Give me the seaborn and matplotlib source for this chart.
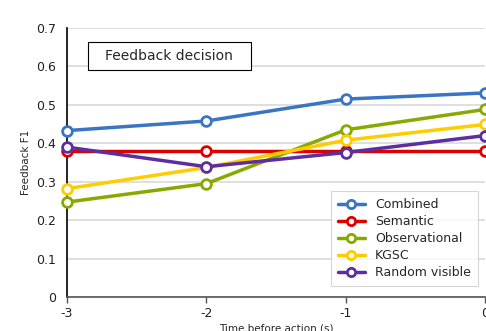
import numpy as np
import pandas as pd
import seaborn as sns
import matplotlib.pyplot as plt
from matplotlib.patches import Rectangle

times = [-3, -2, -1, 0]
combined = [0.433, 0.458, 0.515, 0.531]
semantic = [0.380, 0.380, 0.380, 0.380]
observational = [0.247, 0.295, 0.435, 0.488]
kgsc = [0.282, 0.337, 0.408, 0.449]
random_visible = [0.390, 0.339, 0.376, 0.420]

names = ['Combined', 'Semantic', 'Observational', 'KGSC', 'Random visible']
colors = ['#3a75c4', '#dd0000', '#88aa00', '#ffcc00', '#5c2ea0']
series = [combined, semantic, observational, kgsc, random_visible]

sns.set_style('white')
plt.rcParams['font.family'] = ['DejaVu Sans']

fig = plt.figure(figsize=(4.86, 3.31), dpi=100)
ax = fig.add_axes([67/486, 34/331, 418/486, 269/331])

for name, col, vals in zip(names, colors, series):
    df = pd.DataFrame({'time': times, 'f1': vals})
    sns.lineplot(data=df, x='time', y='f1', ax=ax, color=col, label=name,
                 lw=2.5, marker='o', ms=7, markerfacecolor='white',
                 markeredgecolor=col, markeredgewidth=2, clip_on=False, zorder=3)

ax.set_xlim(-3, 0)
ax.set_ylim(0, 0.7)
ax.set_xticks(times)
ax.set_xticklabels(['-3', '-2', '-1', '0'])
ax.set_yticks(np.arange(0, 0.75, 0.1))
ax.set_yticklabels(['0', '0.1', '0.2', '0.3', '0.4', '0.5', '0.6', '0.7'])
ax.tick_params(axis='both', labelsize=9, colors='#222222')
ax.tick_params(axis='x', length=4, width=1, color='#555555', direction='out', bottom=True)
ax.tick_params(axis='y', length=0, pad=8)
ax.yaxis.grid(True, color='#d9d9d9', lw=1.2)
ax.set_axisbelow(True)
for s in ['top', 'right']:
    ax.spines[s].set_visible(False)
ax.spines['left'].set_color('black')
ax.spines['left'].set_linewidth(1.2)
ax.spines['bottom'].set_color('#555555')
ax.spines['bottom'].set_linewidth(1.2)

ax.set_xlabel('Time before action (s)', fontsize=7.5, labelpad=2)
ax.set_ylabel('Feedback F1', fontsize=7.5, labelpad=3.5)

ax.add_patch(Rectangle((0.050, 0.844), 0.389, 0.104, transform=ax.transAxes,
                       fc='white', ec='black', lw=0.8, zorder=4))
ax.text(0.245, 0.896, 'Feedback decision', transform=ax.transAxes,
        ha='center', va='center', fontsize=10, zorder=5)

leg = ax.legend(loc='lower right', bbox_to_anchor=(0.983, 0.041), fontsize=9,
                frameon=True, fancybox=False, edgecolor='#cccccc',
                labelspacing=0.32, handlelength=2.2, borderpad=0.55,
                borderaxespad=0, markerscale=0.85)
leg.get_frame().set_linewidth(0.8)

fig.savefig('out.png', dpi=100)
